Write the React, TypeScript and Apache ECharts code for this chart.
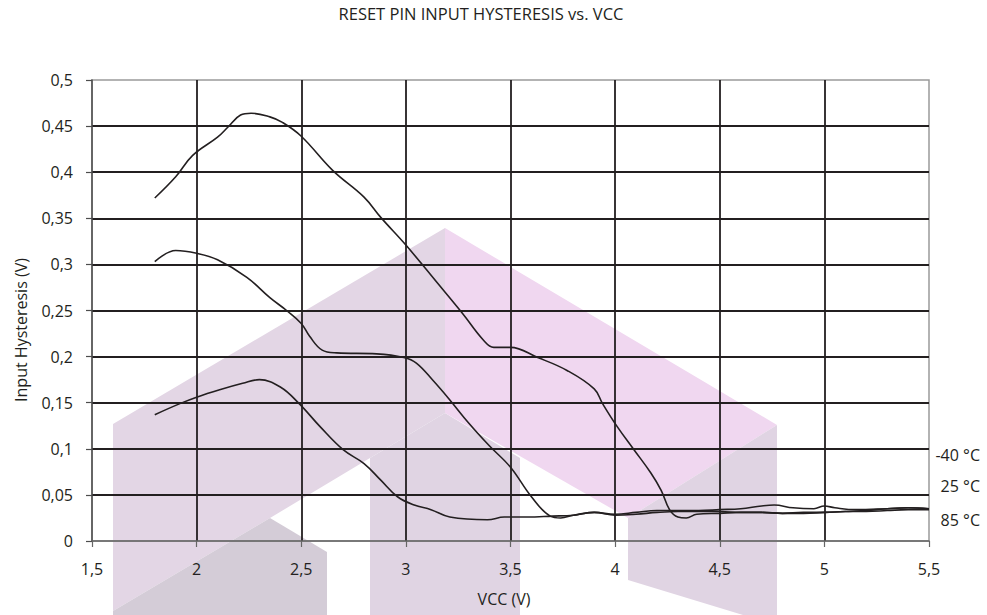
import React, { useEffect, useRef } from "react";
import * as echarts from "echarts";

const chartTitle = "RESET PIN INPUT HYSTERESIS vs. VCC";
const xAxisName = "VCC (V)";
const yAxisName = "Input Hysteresis (V)";
const xTickLabels = ["1,5", "2", "2,5", "3", "3,5", "4", "4,5", "5", "5,5"];
const yTickLabels = ["0", "0,05", "0,1", "0,15", "0,2", "0,25", "0,3", "0,35", "0,4", "0,45", "0,5"];
const seriesNames = ["-40 °C", "25 °C", "85 °C"];

const vccM40 = [1.8, 1.9, 1.98, 2.1, 2.15, 2.21, 2.26, 2.35, 2.41, 2.5, 2.65, 2.8, 2.88, 3.0, 3.15, 3.27, 3.37, 3.42, 3.5, 3.63, 3.77, 3.9, 3.94, 4.01, 4.09, 4.17, 4.22, 4.26, 4.3, 4.34, 4.39, 4.5, 4.6, 4.7, 4.8, 4.9, 5.0, 5.1, 5.2, 5.3, 5.4, 5.5];
const hystM40 = [0.372, 0.395, 0.418, 0.438, 0.449, 0.462, 0.464, 0.46, 0.454, 0.439, 0.402, 0.373, 0.351, 0.321, 0.28, 0.247, 0.218, 0.21, 0.21, 0.199, 0.185, 0.165, 0.149, 0.124, 0.099, 0.074, 0.055, 0.034, 0.026, 0.025, 0.029, 0.03, 0.031, 0.031, 0.03, 0.03, 0.031, 0.032, 0.033, 0.035, 0.036, 0.035];

const vcc25 = [1.8, 1.9, 2.0, 2.1, 2.24, 2.35, 2.43, 2.5, 2.54, 2.6, 2.67, 2.86, 2.99, 3.05, 3.13, 3.21, 3.3, 3.4, 3.5, 3.6, 3.69, 3.74, 3.8, 3.9, 4.0, 4.1, 4.2, 4.3, 4.4, 4.5, 4.6, 4.7, 4.76, 4.85, 4.95, 5.0, 5.05, 5.15, 5.3, 5.4, 5.5];
const hyst25 = [0.303, 0.315, 0.312, 0.305, 0.286, 0.264, 0.25, 0.236, 0.222, 0.207, 0.204, 0.203, 0.199, 0.193, 0.174, 0.153, 0.128, 0.103, 0.08, 0.048, 0.027, 0.025, 0.028, 0.031, 0.029, 0.031, 0.033, 0.033, 0.033, 0.034, 0.035, 0.038, 0.039, 0.036, 0.035, 0.038, 0.036, 0.034, 0.035, 0.036, 0.035];

const vcc85 = [1.8, 1.92, 2.0, 2.11, 2.22, 2.3, 2.4, 2.49, 2.59, 2.7, 2.8, 2.88, 2.96, 3.04, 3.12, 3.21, 3.39, 3.47, 3.58, 3.7, 3.8, 3.9, 4.0, 4.1, 4.2, 4.3, 4.4, 4.5, 4.6, 4.7, 4.8, 4.9, 5.0, 5.1, 5.2, 5.3, 5.4, 5.5];
const hyst85 = [0.137, 0.149, 0.156, 0.164, 0.171, 0.175, 0.167, 0.149, 0.124, 0.099, 0.084, 0.066, 0.048, 0.039, 0.034, 0.026, 0.023, 0.026, 0.026, 0.027, 0.028, 0.031, 0.028, 0.029, 0.031, 0.032, 0.032, 0.032, 0.031, 0.031, 0.03, 0.031, 0.031, 0.032, 0.032, 0.033, 0.034, 0.034];

const FONT = "'Open Sans', sans-serif";
const INK = "#231f20";

function pairs(xs: number[], ys: number[]) {
  return xs.map((x, i) => [x, ys[i]]);
}

export default function App() {
  const ref = useRef<HTMLDivElement>(null);
  useEffect(() => {
    document.body.style.margin = "0";
    const chart = echarts.init(ref.current!, null, { renderer: "svg" });
    const lineSeries = (name: string, xs: number[], ys: number[]) => ({
      name,
      type: "line",
      data: pairs(xs, ys),
      smooth: 0.4,
      showSymbol: false,
      symbol: "none",
      lineStyle: { color: INK, width: 1.6 },
      z: 5,
    });
    const poly = (pts: number[][], fill: string) => ({
      type: "polygon",
      shape: { points: pts },
      style: { fill },
      silent: true,
      z: -100,
    });
    const label = (text: string, x: number, y: number, size: number, align: string, rotation = 0) => ({
      type: "text",
      x,
      y,
      rotation,
      style: { text, fill: INK, font: `${size}px ${FONT}`, align, verticalAlign: "middle" },
      z: 10,
    });
    const option: any = {
      animation: false,
      backgroundColor: "#ffffff",
      grid: {
        left: 92,
        right: 58,
        top: 80,
        bottom: 74,
        show: true,
        borderColor: "#9a9a9a",
        borderWidth: 1.5,
        backgroundColor: "transparent",
      },
      xAxis: {
        type: "value",
        min: 1.5,
        max: 5.5,
        interval: 0.5,
        axisLine: { show: true, lineStyle: { color: "#666666", width: 1.5 } },
        axisTick: { show: true, inside: false, length: 6, lineStyle: { color: "#666666", width: 1.2 } },
        axisLabel: {
          margin: 20,
          color: INK,
          fontFamily: FONT,
          fontSize: 16,
          formatter: (_v: number, i: number) => xTickLabels[i],
        },
        splitLine: { show: true, showMinLine: false, showMaxLine: false, lineStyle: { color: INK, width: 1.8 } },
      },
      yAxis: {
        type: "value",
        min: 0,
        max: 0.5,
        interval: 0.05,
        axisLine: { show: true, lineStyle: { color: "#4d4d4d", width: 1.5 } },
        axisTick: { show: true, inside: false, length: 6, lineStyle: { color: "#4d4d4d", width: 1.2 } },
        axisLabel: {
          margin: 19,
          color: INK,
          fontFamily: FONT,
          fontSize: 16,
          formatter: (_v: number, i: number) => yTickLabels[i],
        },
        splitLine: { show: true, showMinLine: false, showMaxLine: false, lineStyle: { color: INK, width: 1.8 } },
      },
      series: [
        lineSeries(seriesNames[0], vccM40, hystM40),
        lineSeries(seriesNames[1], vcc25, hyst25),
        lineSeries(seriesNames[2], vcc85, hyst85),
      ],
      graphic: [
        poly([[113, 424], [445, 228], [445, 413], [270, 518], [113, 611]], "#e3d6e5"),
        poly([[113, 611], [270, 518], [327, 552], [327, 615], [113, 615]], "#d4ccd7"),
        poly([[370, 458], [445, 413], [520, 458], [520, 615], [370, 615]], "#e0d4e3"),
        poly([[445, 228], [777, 425], [628, 518], [445, 413]], "#f0d7f0"),
        poly([[628, 518], [777, 425], [777, 615], [743, 615], [628, 580]], "#e0d4e3"),
        label(chartTitle, 481, 13, 16.5, "center"),
        label(xAxisName, 504, 599, 16, "center"),
        label(yAxisName, 21, 330, 16, "center", Math.PI / 2),
        label(seriesNames[0], 980, 455, 16, "right"),
        label(seriesNames[1], 980, 486, 16, "right"),
        label(seriesNames[2], 980, 520, 16, "right"),
      ],
    };
    chart.setOption(option);
    return () => chart.dispose();
  }, []);
  return <div ref={ref} style={{ position: "fixed", left: 0, top: 0, width: 987, height: 615 }} />;
}
